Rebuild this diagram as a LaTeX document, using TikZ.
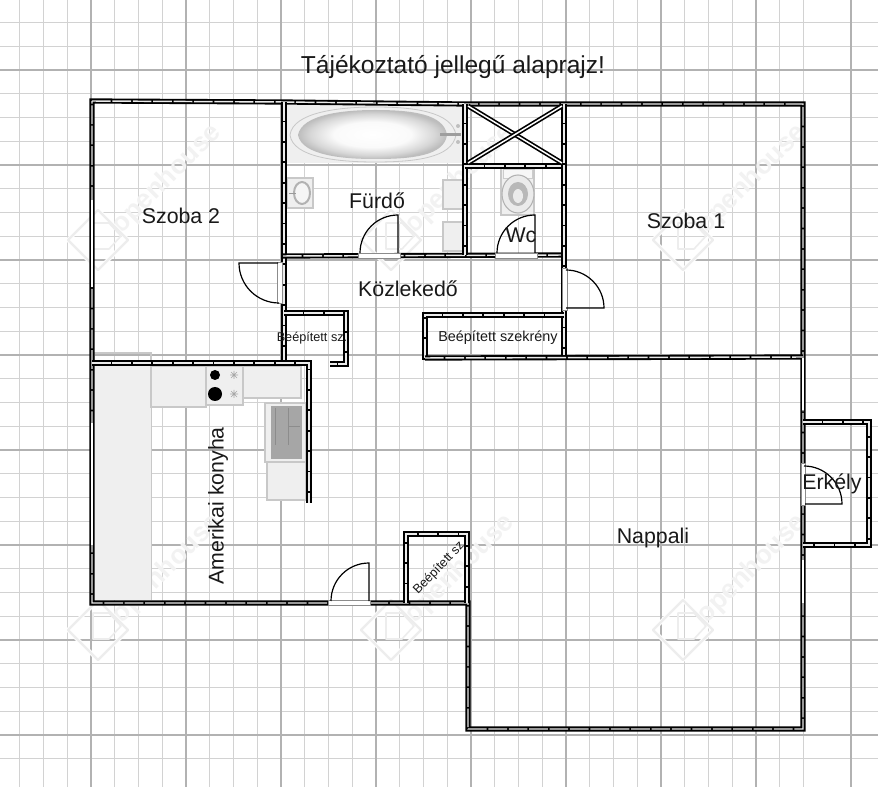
\documentclass[tikz,border=0pt]{standalone}
\usepackage{fontspec}
\setmainfont{Liberation Sans}
\usetikzlibrary{shapes.geometric}
\definecolor{gridc}{HTML}{D2D2D2}
\definecolor{gridm}{HTML}{B2B2B2}
\definecolor{unitc}{HTML}{EFEFEF}
\definecolor{unite}{HTML}{C8C8C8}
\pgfdeclareradialshading{tubshade}{\pgfpoint{0bp}{0bp}}{color(0bp)=(white); color(13bp)=(black!2); color(21bp)=(black!16); color(25bp)=(black!26); color(50bp)=(black!26)}
\tikzset{
  x=0.75pt,y=-0.75pt,
  minorline/.style={gridc,line width=1.05pt},
  majorline/.style={gridm,line width=1.45pt},
  wall/.style={line cap=butt,line join=miter,black,line width=3.9pt,
    postaction={draw,black!8,line width=1.1pt,dash pattern=on 14pt off 1.3pt}},
  windowpane/.style={white,line width=1.7pt},
  diagwall/.style={black,line width=3.6pt,postaction={draw,white,line width=1.1pt}},
  doorsill/.style={draw=black!45,line width=0.5pt,fill=white},
  doorleaf/.style={black,line width=0.9pt},
  unit/.style={fill=unitc,draw=unite,line width=0.8pt},
  room/.style={font=\fontsize{16}{16}\selectfont,text=black!90,inner sep=0pt},
  wm/.style={rotate=45,font=\bfseries\fontsize{20}{20}\selectfont,text=black!5,inner sep=0pt},
}
\newcommand{\logomark}[3]{%
  \node[wm] (#1) at (#2,#3) {openhouse};
  \begin{scope}[shift={(#2,#3)}]
    \draw[white,line width=3pt,line join=round] (-99,61) -- (-69,31) -- (-39,61) -- (-69,91) -- cycle;
    \draw[black!7,line width=1.8pt,line join=round] (-99,61) -- (-69,31) -- (-39,61) -- (-69,91) -- cycle;
    \draw[black!7,line width=1.2pt,line join=round] (-74,70) -- (-74,44) -- (-58,44) -- (-46,57) -- (-58,70) -- cycle;
  \end{scope}}
\begin{document}
\begin{tikzpicture}
\useasboundingbox (0,0) rectangle (878,787);
\fill[white] (0,0) rectangle (878,787);
% grid
\foreach \i in {-3,...,34} {
  \pgfmathsetmacro{\gx}{-4+23.75*\i}
  \draw[minorline] (\gx,0) -- (\gx,787);
}
\foreach \i in {-3,...,33} {
  \pgfmathsetmacro{\gy}{-25+23.75*\i}
  \draw[minorline] (0,\gy) -- (878,\gy);
}
\foreach \i in {0,...,9} {
  \pgfmathsetmacro{\gx}{-4+95*\i}
  \draw[majorline] (\gx,0) -- (\gx,787);
}
\foreach \i in {0,...,8} {
  \pgfmathsetmacro{\gy}{-25+95*\i}
  \draw[majorline] (0,\gy) -- (878,\gy);
}
% watermarks
\logomark{wa}{167}{179}
\logomark{wb}{460}{179}
\logomark{wc}{752}{179}
\logomark{wd}{167}{569}
\logomark{we}{460}{569}
\logomark{wf}{752}{569}
% bathroom fixtures
\fill[unitc] (285,105) rectangle (465,163);
\draw[black!22,line width=0.6pt] (290,135) .. controls (293,112) and (340,107) .. (375,107) .. controls (415,107) and (452,112) .. (456,135) .. controls (452,158) and (415,162) .. (375,162) .. controls (340,162) and (293,158) .. (290,135);
\shade[shading=tubshade] (298,135) .. controls (302,114) and (345,110) .. (375,110) .. controls (412,110) and (444,114) .. (447,135) .. controls (444,156) and (412,159) .. (375,159) .. controls (345,159) and (302,156) .. (298,135) -- cycle;
\fill[black!38] (440,133) rectangle (461,136);
\fill[black!25] (458,126) circle (2);
\fill[black!25] (458,142) circle (2);
\draw[unit] (287,178) rectangle (313,208);
\draw[black!30,fill=black!4,line width=1.5pt] (302,193) ellipse (8 and 11);
\draw[black!40,line width=0.5pt] (289,193) -- (296,193);
\draw[unit] (443,180) rectangle (463,209);
\draw[unit] (443,222) rectangle (463,251);
\draw[unit] (501,168) rectangle (534,215);
\draw[black!20,fill=black!3,line width=0.6pt] (503,169) rectangle (532,178);
\draw[black!30,fill=black!8,line width=0.8pt] (518,194) ellipse (16 and 19);
\fill[black!28] (518,194) ellipse (10 and 12);
\fill[black!8] (518,196) ellipse (5 and 7);
% kitchen
\draw[unite,line width=0.8pt] (94,353) rectangle (151,366);
\fill[unitc] (94,366) rectangle (151,600);
\draw[unite,line width=0.5pt] (151,366) -- (151,600);
\draw[unit] (151,366) rectangle (206,407);
\draw[unit] (206,366) rectangle (243,405);
\draw[unit] (243,366) rectangle (301,398);
\fill[black] (215,375) circle (5);
\fill[black] (215,394) circle (7);
\foreach \yy in {375,394} {
  \draw[black!35,line width=0.5pt] (230,\yy) -- (238,\yy) (234,\yy-4) -- (234,\yy+4) (231,\yy-3) -- (237,\yy+3) (231,\yy+3) -- (237,\yy-3);
}
\draw[unit] (265,403) rectangle (306,462);
\fill[black!35] (271,406) rectangle (302,459);
\draw[black!45,line width=0.4pt] (275,408) -- (275,445) (288,408) -- (288,445) (288,426) -- (300,426);
\draw[unit] (267,462) rectangle (306,500);
% walls
\draw[wall] (92,101) -- (283,102) -- (465,104) -- (565,104) -- (803,104) -- (803,729) -- (468,729) -- (468,603) -- (92,603) -- cycle;
\draw[wall] (284,102) -- (284,363);
\draw[wall] (283,256) -- (564,255);
\draw[wall] (465,104) -- (465,255);
\draw[wall] (465,166) -- (564,166);
\draw[wall] (564,104) -- (564,358);
\draw[wall] (284,313) -- (346,313) -- (346,364) -- (330,364);
\draw[wall] (92,363) -- (309,363) -- (309,503);
\draw[wall] (564,315) -- (425,315) -- (425,360);
\draw[wall] (425,358) -- (803,357);
\draw[wall] (406,603) -- (406,534) -- (467,534) -- (467,603);
\draw[wall] (803,422) -- (869,422) -- (869,545) -- (803,545);
% windows
\draw[windowpane] (92,200) -- (92,287);
\draw[windowpane] (92,423) -- (92,545);
\draw[windowpane] (803,358) -- (803,410);
\draw[windowpane] (803,560) -- (803,603);
% shaft cross
\draw[diagwall] (468,106) -- (562,163);
\draw[diagwall] (562,106) -- (468,163);
% doors
\fill[doorsill] (328,600) rectangle (370,605);
\draw[doorleaf] (369,601) -- (369,563) arc[start angle=270,end angle=180,radius=38];
\fill[doorsill] (358,253) rectangle (400,258);
\draw[doorleaf] (398,253) -- (398,215) arc[start angle=270,end angle=180,radius=38];
\fill[doorsill] (495,253) rectangle (537,258);
\draw[doorleaf] (535,253) -- (535,215) arc[start angle=270,end angle=180,radius=38];
\fill[doorsill] (277,262) rectangle (282,303);
\draw[doorleaf] (278,263) -- (239,263) arc[start angle=180,end angle=90,radius=40];
\fill[doorsill] (562,268) rectangle (567,310);
\draw[doorleaf] (566,308) -- (604,308) arc[start angle=0,end angle=-90,radius=38];
\fill[doorsill] (801,463) rectangle (805,505);
\draw[doorleaf] (805,504) -- (842,504) arc[start angle=0,end angle=-90,radius=38];
% labels
\node[inner sep=0pt,font=\fontsize{18.4}{18.4}\selectfont,text=black!90] (title) at (453,67) {Tájékoztató jellegű alaprajz!};
\node[room] (sz2) at (181,216) {Szoba 2};
\node[room] (sz1) at (686,221) {Szoba 1};
\node[room] (furdo) at (377,201) {Fürdő};
\node[room] (wc) at (521,235) {Wc};
\node[room] (kozl) at (408,289) {Közlekedő};
\node[room,font=\fontsize{9.5}{9.5}\selectfont] (bs1) at (312,338) {Beépített sz.};
\node[room,font=\fontsize{10.8}{10.8}\selectfont] (bs2) at (498,338) {Beépített szekrény};
\node[room,font=\fontsize{9.5}{9.5}\selectfont,rotate=46] (bs3) at (439,568) {Beépített sz};
\node[room,rotate=90] (konyha) at (218,506) {Amerikai konyha};
\node[room] (napp) at (653,538) {Nappali};
\node[room] (erk) at (832,484) {Erkély};
\end{tikzpicture}
\end{document}
